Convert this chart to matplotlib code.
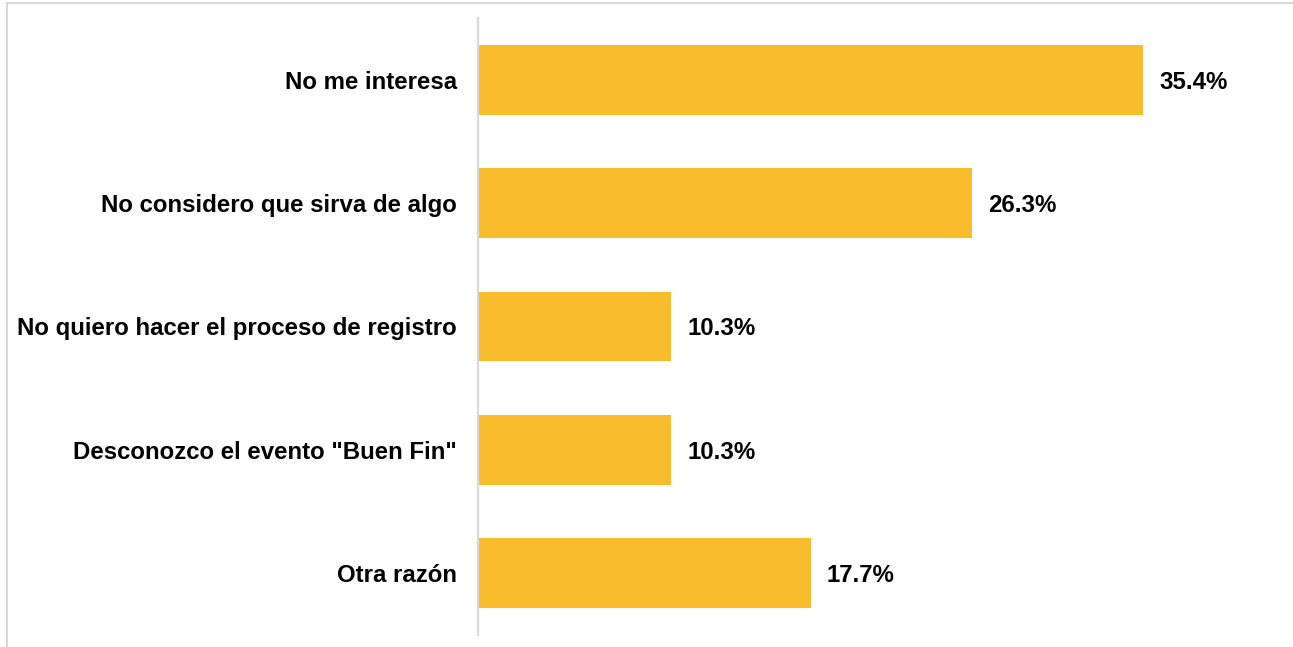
import matplotlib
matplotlib.use("Agg")
import matplotlib.pyplot as plt
from matplotlib.lines import Line2D

categories = ["No me interesa", "No considero que sirva de algo",
              "No quiero hacer el proceso de registro",
              'Desconozco el evento "Buen Fin"', "Otra razón"]
values = [35.4, 26.3, 10.3, 10.3, 17.7]
labels = ["35.4%", "26.3%", "10.3%", "10.3%", "17.7%"]

W, H = 1293, 647
fig = plt.figure(figsize=(W / 100, H / 100), dpi=100)
plt.rcParams['font.family'] = ['Liberation Sans', 'DejaVu Sans']

ax_left = 478 / W
ax_bottom = 12 / H
ax_h = 617 / H
ax_w = 750 / W
ax = fig.add_axes([ax_left, ax_bottom, ax_w, ax_h])
xmax = 750 / (665 / 35.4)

y = list(range(len(categories)))
ax.barh(y, values, height=0.567, color="#F8BC2C", left=0)
ax.set_ylim(len(categories) - 0.5, -0.5)
ax.set_xlim(0, xmax)
ax.set_yticks(y)
ax.set_yticklabels(categories, fontsize=17.3, fontweight="bold")
ax.tick_params(axis="y", length=0, pad=15)
ax.set_xticks([])
for s in ["top", "right", "bottom"]:
    ax.spines[s].set_visible(False)
ax.spines["left"].set_color("#D9D9D9")
ax.spines["left"].set_linewidth(1.6)

for yi, v, lab in zip(y, values, labels):
    ax.text(v + 16 * xmax / 750, yi, lab, va="center_baseline", ha="left",
            fontsize=17.3, fontweight="bold")

# outer border (top and left)
fig.add_artist(Line2D([7 / W, 1], [1 - 3 / H, 1 - 3 / H], color="#D9D9D9", lw=1.5,
                      transform=fig.transFigure))
fig.add_artist(Line2D([7 / W, 7 / W], [0, 1 - 3 / H], color="#D9D9D9", lw=1.5,
                      transform=fig.transFigure))

fig.savefig("out.png", dpi=100)
